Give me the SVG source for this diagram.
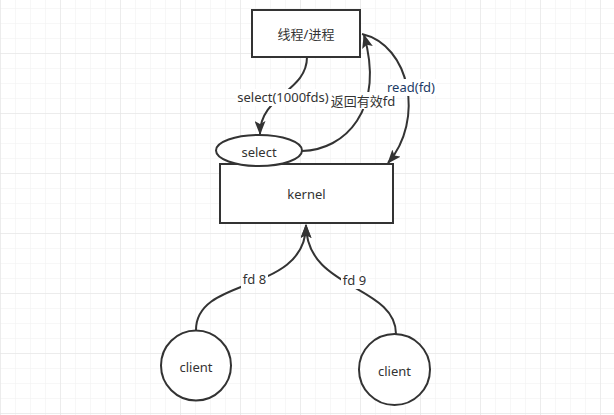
<svg xmlns="http://www.w3.org/2000/svg" width="614" height="415" viewBox="0 0 614 415">
  <defs>
    <pattern id="gridMinor" width="15" height="15" patternUnits="userSpaceOnUse" x="0" y="8">
      <path d="M15 0 L0 0 L0 15" fill="none" stroke="#efefef" stroke-width="1"/>
    </pattern>
    <pattern id="gridMajor" width="60" height="60" patternUnits="userSpaceOnUse" x="0" y="53">
      <path d="M60 0 L0 0 L0 60" fill="none" stroke="#e2e2e2" stroke-width="1"/>
    </pattern>
    <marker id="arrow" viewBox="0 0 14 11" refX="13" refY="5.5" markerWidth="14" markerHeight="11" markerUnits="userSpaceOnUse" orient="auto">
      <path d="M0 0 L14 5.5 L0 11 L3 5.5 Z" fill="#333333"/>
    </marker>
    <style>
      .node { fill: #ffffff; stroke: #333333; stroke-width: 2; }
      .edge { fill: none; stroke: #333333; stroke-width: 2; marker-end: url(#arrow); }
      .txt { font-family: "Noto Sans", "Noto Sans CJK SC", sans-serif; font-size: 13px; fill: #333333; text-anchor: middle; dominant-baseline: central; }
      .lblbg { fill: #ffffff; }
    </style>
  </defs>

  <rect x="0" y="0" width="614" height="415" fill="#ffffff"/>
  <rect x="0" y="0" width="614" height="415" fill="url(#gridMinor)"/>
  <rect x="0" y="0" width="614" height="415" fill="url(#gridMajor)"/>

  <g id="connectors">
    <path class="edge" d="M307 57 C307 92 260 95 260 134"/>
    <path class="edge" d="M302 151 C345 150 385 110 364 35"/>
    <path class="edge" d="M362 34 C410 45 425 120 388 163"/>
    <path class="edge" d="M196 330 C196 275 306 295 306 225"/>
    <path class="edge" d="M396 334 C396 285 306 290 306 225"/>

    <g id="label-fanhui">
      <rect class="lblbg" x="330" y="92" width="66" height="17"/>
      <text class="txt" x="363" y="100.5">返回有效fd</text>
    </g>
    <g id="label-select">
      <rect class="lblbg" x="236" y="89" width="94" height="17"/>
      <text class="txt" x="283" y="97">select(1000fds)</text>
    </g>
    <g id="label-read">
      <rect class="lblbg" x="386" y="79" width="51" height="17"/>
      <text class="txt" x="411" y="87" style="fill:#1c3b66">read(fd)</text>
    </g>
    <g id="label-fd8">
      <rect class="lblbg" x="241" y="271" width="27" height="17"/>
      <text class="txt" x="254.5" y="279">fd 8</text>
    </g>
    <g id="label-fd9">
      <rect class="lblbg" x="341" y="272" width="27" height="17"/>
      <text class="txt" x="354.5" y="280">fd 9</text>
    </g>
  </g>

  <g id="node-process">
    <rect class="node" x="252" y="10" width="108" height="47"/>
    <text class="txt" x="306" y="34">线程/进程</text>
  </g>

  <g id="node-kernel">
    <rect class="node" x="220" y="164" width="173" height="59"/>
    <text class="txt" x="306.5" y="194">kernel</text>
  </g>

  <g id="node-select">
    <ellipse class="node" cx="259" cy="150.5" rx="43" ry="15.5"/>
    <text class="txt" x="259" y="151.5">select</text>
  </g>

  <g id="node-client1">
    <circle class="node" cx="196" cy="365.5" r="35"/>
    <text class="txt" x="196" y="366.5">client</text>
  </g>

  <g id="node-client2">
    <circle class="node" cx="394.5" cy="369.5" r="35.5"/>
    <text class="txt" x="394.5" y="370.5">client</text>
  </g>
</svg>
